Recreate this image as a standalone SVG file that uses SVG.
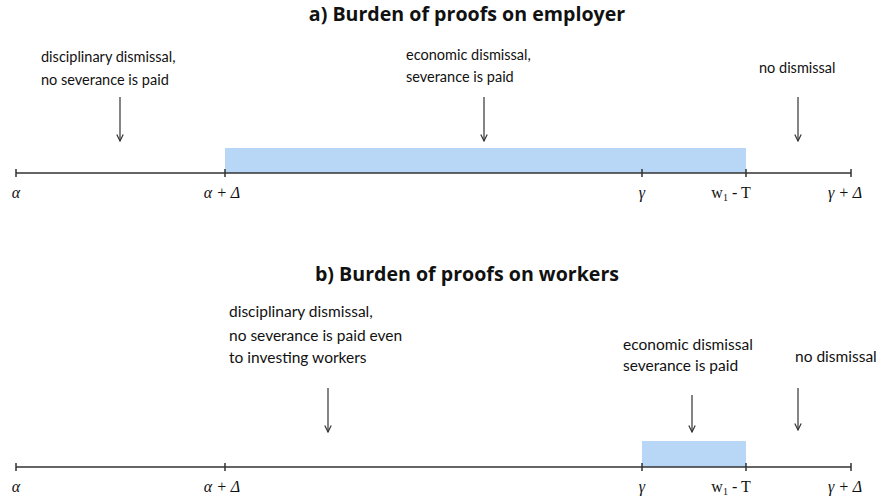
<svg xmlns="http://www.w3.org/2000/svg" width="885" height="502" viewBox="0 0 885 502">
<defs>
<style>
.t{font-family:Lato,"Open Sans",sans-serif;fill:#111;}
.ta{font-size:14.5px;}
.tb{font-size:15.5px;}
.h{font-family:"Open Sans",Lato,sans-serif;font-weight:bold;font-size:19.6px;fill:#111;text-anchor:middle;}
.m{font-family:"Liberation Serif","DejaVu Serif",serif;font-style:italic;font-size:16px;fill:#111;text-anchor:middle;}
.ax{stroke:#333;stroke-width:1.5;fill:none;}
.bar{fill:#b8d7f7;}
.ar{stroke:#333;stroke-width:1.2;fill:none;marker-end:url(#ah);}
</style>
<marker id="ah" viewBox="0 0 10 10" refX="9" refY="5" markerWidth="8" markerHeight="8" markerUnits="userSpaceOnUse" orient="auto">
<path d="M1,1 L9,5 L1,9" fill="none" stroke="#333" stroke-width="1.5"/>
</marker>
</defs>
<rect width="885" height="502" fill="#fff"/>

<g id="panel-a">
<text class="h" x="467" y="21">a) Burden of proofs on employer</text>
<rect class="bar" x="225" y="148" width="521" height="25"/>
<g id="axis-a">
<path class="ax" d="M16,173H851M16,169V177M225,169V177M642,169V177M746,169V177M851,169V177"/>
</g>
<g id="labels-a">
<text class="m" x="16" y="198">α</text>
<text class="m" x="222" y="198">α + Δ</text>
<text class="m" x="642" y="198">γ</text>
<text class="m" x="731" y="198"><tspan font-style="normal">w</tspan><tspan font-style="normal" font-size="10" dy="3">1</tspan><tspan font-style="normal" dy="-3"> - T</tspan></text>
<text class="m" x="845" y="198">γ + Δ</text>
</g>
<g id="a-disciplinary">
<text class="t ta" x="41" y="62">disciplinary dismissal,</text>
<text class="t ta" x="41" y="85">no severance is paid</text>
</g>
<g id="a-economic">
<text class="t ta" x="406" y="60">economic dismissal,</text>
<text class="t ta" x="406" y="82">severance is paid</text>
</g>
<g id="a-none">
<text class="t ta" x="759" y="73">no dismissal</text>
</g>
</g>

<g id="panel-b">
<text class="h" x="467" y="281">b) Burden of proofs on workers</text>
<rect class="bar" x="642" y="441" width="104" height="26"/>
<g id="axis-b">
<path class="ax" d="M16,467H851M16,463V471M225,463V471M642,463V471M746,463V471M851,463V471"/>
</g>
<g id="labels-b">
<text class="m" x="16" y="492">α</text>
<text class="m" x="222" y="492">α + Δ</text>
<text class="m" x="642" y="492">γ</text>
<text class="m" x="731" y="492"><tspan font-style="normal">w</tspan><tspan font-style="normal" font-size="10" dy="3">1</tspan><tspan font-style="normal" dy="-3"> - T</tspan></text>
<text class="m" x="845" y="492">γ + Δ</text>
</g>
<g id="b-disciplinary">
<text class="t tb" x="229" y="317">disciplinary dismissal,</text>
<text class="t tb" x="229" y="341">no severance is paid even</text>
<text class="t tb" x="229" y="363">to investing workers</text>
</g>
<g id="b-economic">
<text class="t tb" x="623" y="350">economic dismissal</text>
<text class="t tb" x="623" y="371">severance is paid</text>
</g>
<g id="b-none">
<text class="t tb" x="795" y="362">no dismissal</text>
</g>
</g>

<g id="connectors">
<line class="ar" x1="120" y1="97" x2="120" y2="141"/>
<line class="ar" x1="484" y1="97" x2="484" y2="141"/>
<line class="ar" x1="798" y1="97" x2="798" y2="141"/>
<line class="ar" x1="328" y1="388" x2="328" y2="432"/>
<line class="ar" x1="692" y1="395" x2="692" y2="432"/>
<line class="ar" x1="798" y1="388" x2="798" y2="430"/>
</g>
</svg>
